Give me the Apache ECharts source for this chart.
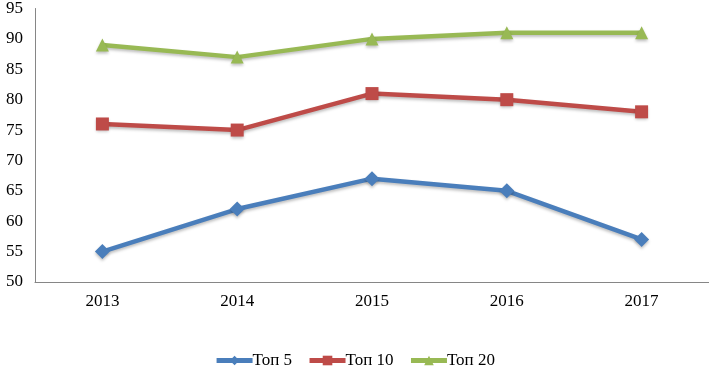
<!DOCTYPE html>
<html><head><meta charset="utf-8">
<script src="https://cdn.jsdelivr.net/npm/echarts@6/dist/echarts.min.js"></script>
<style>html,body{margin:0;padding:0;background:#fff}#c{width:709px;height:369px}</style>
</head><body><div id="c"></div>
<script>
const categories = ['2013','2014','2015','2016','2017'];
const top5 = [55, 62, 67, 65, 57];
const top10 = [76, 75, 81, 80, 78];
const top20 = [89, 87, 90, 91, 91];
const seriesNames = ['Топ 5','Топ 10','Топ 20'];
const colors = ['#4A7EBB','#BE4B48','#98B954'];
const symbols = ['diamond','rect','triangle'];
const font = '"Liberation Serif", "Times New Roman", serif';
const chart = echarts.init(document.getElementById('c'));
const mk = (name, data, i) => ({
  name, type: 'line', data, symbol: symbols[i], symbolSize: i===0 ? 15 : 13,
  lineStyle: {width: 4.5, color: colors[i], shadowColor:'rgba(0,0,0,0.25)', shadowBlur:3, shadowOffsetY:2},
  itemStyle: {color: colors[i], shadowColor:'rgba(0,0,0,0.25)', shadowBlur:3, shadowOffsetY:2},
  animation: false
});
chart.setOption({
  animation: false,
  textStyle: {fontFamily: font},
  grid: {left: 35, right: 0, top: 7.5, bottom: 87},
  legend: {
    top: 347, left: 'center', itemWidth: 36, itemHeight: 12, itemGap: 15,
    lineStyle: {width: 5, shadowBlur: 0},
    itemStyle: {shadowBlur: 0},
    textStyle: {fontFamily: font, fontSize: 17, color: '#000', padding: [0, 0, 0, -5]},
    data: seriesNames
  },
  xAxis: {
    type: 'category', data: categories, boundaryGap: true,
    axisLine: {lineStyle: {color: '#868686', width: 1}},
    axisTick: {show: false},
    axisLabel: {fontFamily: font, fontSize: 17, color: '#000', margin: 11}
  },
  yAxis: {
    type: 'value', min: 50, max: 95, interval: 5,
    axisLine: {show: true, lineStyle: {color: '#868686', width: 1}},
    axisTick: {show: false},
    splitLine: {show: false},
    axisLabel: {fontFamily: font, fontSize: 17, color: '#000', margin: 12}
  },
  series: [mk(seriesNames[0], top5, 0), mk(seriesNames[1], top10, 1), mk(seriesNames[2], top20, 2)]
});
</script></body></html>
